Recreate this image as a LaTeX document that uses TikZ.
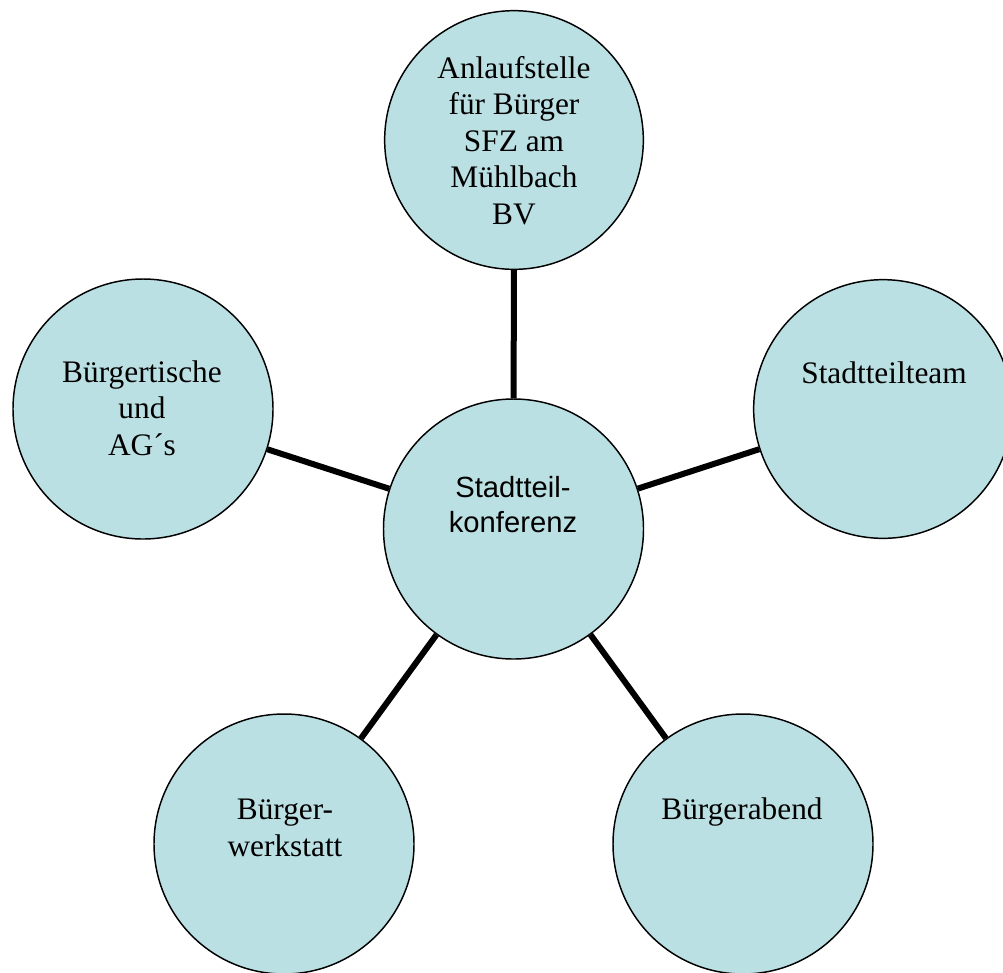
\documentclass[tikz,border=0pt]{standalone}
\usepackage{fontspec}
\setmainfont{Liberation Serif}
\newfontfamily\sansx{Liberation Sans}
\definecolor{bubble}{HTML}{BBE0E3}
\begin{document}
\begin{tikzpicture}[x=0.75pt,y=-0.75pt,
  bubblenode/.style={circle,draw=black,line width=1.1pt,fill=bubble,minimum size=195pt,inner sep=0pt},
  label text/.style={align=center,inner sep=0pt,font=\fontsize{23.5}{27.4}\selectfont},
  sans text/.style={align=center,inner sep=0pt,font=\sansx\fontsize{21.9}{26.2}\selectfont},
  link/.style={line width=4.5pt,black}]
\useasboundingbox (0,0) rectangle (1003,972);
\node[bubblenode,minimum size=194pt] (top) at (514,140) {};
\node[bubblenode] (left) at (143,409) {};
\node[bubblenode,minimum size=194pt] (right) at (883,409) {};
\node[bubblenode] (mid) at (513.5,529) {};
\node[bubblenode] (bl) at (284,844) {};
\node[bubblenode] (br) at (743,844) {};
\draw[link] (mid) -- (top);
\draw[link] (mid) -- (left);
\draw[link] (mid) -- (right);
\draw[link] (mid) -- (bl);
\draw[link] (mid) -- (br);
\node[label text] (ttop) at (514,140.5) {Anlaufstelle\\für Bürger\\SFZ am\\Mühlbach\\BV};
\node[label text] (tleft) at (142,408) {Bürgertische\\und\\AG´s};
\node[label text] (tright) at (884,373) {Stadtteilteam};
\node[sans text] (tmid) at (513,505) {Stadtteil-\\konferenz};
\node[label text] (tbl) at (285,828) {Bürger-\\werkstatt};
\node[label text] (tbr) at (742,811.5) {Bürgerabend};
\end{tikzpicture}
\end{document}
